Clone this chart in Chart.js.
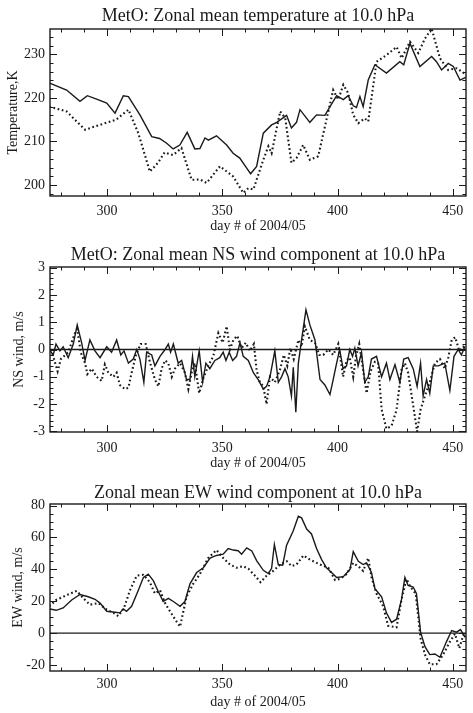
<!DOCTYPE html>
<html><head><meta charset="utf-8">
<script src="https://cdn.jsdelivr.net/npm/chart.js@4/dist/chart.umd.min.js"></script>
<style>
html,body{margin:0;padding:0;background:#fff;width:473px;height:713px;overflow:hidden}
canvas{position:absolute;left:0}
</style></head><body>
<canvas id="c1" width="473" height="236" style="top:0"></canvas>
<canvas id="c2" width="473" height="236" style="top:236px"></canvas>
<canvas id="c3" width="473" height="241" style="top:472px"></canvas>
<script>
// ---- data ----
const xTicks = [300, 350, 400, 450];

const tSolidDay = [275,282.5,288.3,291.5,295.5,299.9,303.5,307.1,309.3,314.3,319.4,322.8,325.9,328.7,331.6,334.8,338.1,340.3,342.5,344,347.5,351.9,354.7,357.6,360.6,362.3,364.9,367.8,371.4,373.6,377.9,380,382.2,383.7,388,390.9,394.5,398.1,399.6,402.5,404.6,406.8,408.2,409.7,411.1,413.3,416.2,421.2,427,428.7,431.4,435.7,440.8,442.9,445.1,448,450.2,453.1,456];
const tSolid = [223.4,221.8,219.2,220.5,219.7,218.8,216.5,220.5,220.3,216.1,211.1,210.7,209.6,208.3,209.2,212.1,208.3,208.4,210.8,210.3,211.3,209.2,207.3,206.2,203.9,202.6,204.3,211.9,213.8,214.4,216,213.1,214.4,217.3,214.4,216.1,216.0,219.2,220.5,219.6,220.5,218.2,217.8,220.3,218,224.1,227.6,225.7,228.3,227.6,232.5,227.2,229.5,228.3,226.4,227.9,227.2,224.1,224.8];
const tDotDay = [275,282.5,290.5,296.8,304,309.3,313.6,318.6,322.1,325,328.7,332.3,336.7,340.3,343.2,349,354.7,359.1,361.3,363.5,367.8,370,371.4,375.1,377.3,380,382.2,385.1,388,391.6,394.5,398.1,400.3,402.5,404.6,406.8,409,411.8,413.3,416.9,421.2,425.6,427.8,431.4,435,437.9,440.8,444.4,448,451.6,456];
const tDot = [218,216.9,212.7,213.8,215,217.3,211.9,203.1,205.1,207.5,206.9,208.5,201.2,201.3,200.5,204.3,202,198.2,199.3,199,205.8,208.9,207.3,216.9,215.4,205.1,206.2,209.2,205.8,206.6,213.4,221.8,219.6,223,221.1,216.1,214.2,215.3,214.6,228.3,229.8,231.7,229.1,232.9,230.3,233.6,235.9,229.1,226.4,226.8,225.3];
const tTicks = [200, 210, 220, 230];

const nsSolidDay = [275,276.7,277.9,279.6,281,283.2,285.4,287.1,289,290.5,292.6,294.8,297,299.9,302,304.2,306,307.4,309.3,311.4,312.9,314.3,316,317.2,319.4,320.8,323,325.2,326.6,327.6,328.8,330.9,332.4,334.5,336,337.1,338.1,340,341.5,342.9,344.6,346.8,348.9,350.4,351.6,353,354.5,356.2,357.7,359.1,361.3,363.5,365.6,367.8,369.2,370.7,372.8,374.3,375.7,377.2,378.6,380,380.8,381.9,383,384.4,386.3,388,390.2,392.4,394.5,396.7,398.1,399.6,400.9,402.4,403.9,405.3,406.5,407.5,408.9,410.4,411.8,413.3,414.7,416.9,419.1,421.2,422.7,424.9,427,428.7,430.6,432.8,434.5,436,437.1,438.6,440,441.5,443.7,446.5,448.7,450.5,452.3,453.7,455.2];
const nsSolid = [0,-0.2,0.2,-0.05,0.1,-0.3,0.2,0.9,0.25,-0.4,0.35,-0.05,-0.3,0.1,-0.1,0.35,-0.2,-0.05,-0.5,-0.35,0,-0.35,-1.2,-0.1,-0.2,-0.6,-0.25,0,0.2,-0.1,0.2,-0.5,-0.4,-1.1,-1.1,-0.25,-1.0,-0.05,-1.2,-0.5,-0.7,-0.4,-0.3,-0.1,-0.4,-0.1,-0.4,-0.25,0.25,-0.25,-0.4,-0.85,-1.1,-1.45,-1.35,-1.0,-0.05,-1.2,-1.0,-0.7,-1.0,-1.7,-0.65,-2.3,-0.5,0.35,1.45,0.9,0.35,-1.1,-1.3,-1.65,-1.1,-0.5,0,-0.7,-0.6,0,-0.25,0.05,-0.6,-0.1,-1.2,-1.0,-0.35,-0.25,-1.0,-0.5,-1.1,-0.55,-1.2,-0.35,-0.3,-0.7,-1.35,-0.5,-1.7,-1.1,-1.6,-0.6,-0.6,-0.5,-1.5,-0.25,0,-0.2,0.1];
const nsDotDay = [275,276.7,278.6,280,283.2,286.1,287.1,288.6,290.5,291.5,293.4,295.5,297.7,299.1,300.6,302.8,304.2,305.6,307.8,309.3,310.7,312.6,314.6,316.8,318.6,320.8,322.3,323.7,325.2,326.6,328.1,329.5,331.7,333.8,335.3,336.7,338.1,340,341.8,343.9,346.1,348.3,350.2,351.9,353.3,354.8,356.5,358.4,360.2,362,363.7,364.9,366.3,367.8,369.2,370.7,372.8,375,376.7,378.2,379.5,381,383,384.4,385.8,388,390.2,392.1,393.8,396,398.1,400.3,402.4,403.9,405.3,406.8,408,409.4,411.1,412.6,414.3,416.2,417.6,419.1,421.2,423.4,425.6,427.7,429.2,430.6,432.8,434.5,436,437.9,440,442.2,444.4,446.5,448,449.5,451,452.8,454.5,456];
const nsDot = [-0.05,-0.25,-0.8,-0.35,-0.1,0.6,0.75,-0.1,-0.5,-0.9,-0.7,-1.0,-1.15,-0.55,-0.85,-1.0,-0.85,-1.3,-1.45,-1.4,-0.85,-0.2,0.2,0.2,-0.45,-1.1,-1.35,-0.7,-0.4,-0.5,-1.0,-0.7,-0.5,-0.85,-1.45,-0.85,-0.5,-1.6,-1.05,-0.6,-0.25,0.6,0.25,0.85,0,0.35,0.5,0.05,0.25,-0.05,0.2,-0.75,-1.2,-1.35,-2.0,-1.0,-1.2,-0.75,-0.2,-0.6,0.05,-0.35,0.35,0.1,0.85,0.35,0.25,-0.2,-0.2,0,-0.2,0.2,-1.0,-0.4,-0.3,-1.0,-0.25,0.2,-0.75,-1.6,-0.8,-0.45,-0.5,-2.2,-2.9,-2.8,-2.2,-0.75,-0.5,-0.85,-2.05,-3.0,-2.2,-1.7,-1.2,-0.5,-0.35,-0.7,-0.3,0.35,0.45,-0.05,0.1,0];
const nsTicks = [-3, -2, -1, 0, 1, 2, 3];

const ewSolidDay = [275,278,281,284.7,288.3,291.9,294.8,297,299.9,303.5,305.6,307.1,308.5,310.7,313.6,315.8,317.9,320.1,322.3,324.4,326.6,328.8,331.7,333.8,336,338.9,341.8,344.7,347.5,350.4,352.6,354.8,356.9,358.4,360.6,362.8,364.9,367.8,370,371.4,372.6,374.3,376.2,377.9,380.8,383,384.4,386.6,388.7,390.9,393.1,395.2,397.4,399.6,402.5,405.4,406.8,409,411.1,412.6,414.7,416.2,419.1,421.2,423.4,425.6,427.7,429.2,430.6,432.8,434.2,436,437.9,440,442.2,444.4,447.2,449.5,451.6,453.3,455.2,456];
const ewSolid = [15.2,14.3,15.8,20.8,24.2,22.8,21.2,18.8,13.7,13.1,12.7,15.2,13.7,16.8,26.9,34.9,37,32.9,25.9,19.8,21.8,19.8,16.8,19.8,30.9,38,41,47.1,48.7,49.5,53.1,52.1,51.7,49.5,53.5,51.5,45.5,39.4,37.4,40.6,55.6,43,42.6,55.2,64.2,73.3,72.3,65.3,62.2,53.1,46.1,41,38,34.9,35.4,40,51.1,45,43,44,38,27.9,22.8,12.7,6.7,8.7,20.8,34.9,29.9,28.9,24.8,0.6,-8.5,-13.5,-13.1,-15.2,-5.5,1.6,0.6,2.2,-2.4,-1.8];
const ewDotDay = [275,278,282.5,286.9,289.8,292.6,296.3,299.9,302.8,304.9,307.4,310,312.9,315.8,318.6,320.8,323,325.2,327.3,329.5,331.7,334.5,337.4,340.3,343.9,347.5,350.4,353.3,356.2,359.1,361.3,364.2,366.6,369.2,372.1,375.1,378,380.1,382.2,385.2,388,392.4,396,398.9,401,403.9,406.8,409.7,411.1,413.3,414.7,416.9,419.8,421.9,425.6,427.7,429.9,431.6,433.9,436,437.9,440,442.9,445.8,448.7,450.9,452.8,454.5,456];
const ewDot = [16.8,20.8,23.8,26.5,21.8,17.8,18.8,14.7,12.7,10.7,15.8,26.9,36,36.6,31.9,24.8,26.9,18.8,13.7,8.7,4.0,22.8,30.9,37,47.1,52.1,47.1,43,41,42,40.4,36,31.9,36,39,43,45,42,43,48.7,46.1,43,41,33.3,34,37,44,41,39,47.1,35,24.8,16.8,4.6,3.6,20.8,33.9,28.9,24.8,-3.4,-13.5,-19.6,-19.6,-13.5,-5.5,-0.4,-9.5,-1.4,-0.4];
const ewTicks = [-20, 0, 20, 40, 60, 80];

// ---- drawing ----
const INK = '#1a1a1a';
const FONT = "'Liberation Serif', 'Times New Roman', serif";
const XMIN = 275.3, XMAX = 455.7;

const frame = {
  id: 'frame',
  afterDatasetsDraw(chart, args, o) {
    const {ctx, chartArea: a, scales: {x, y}} = chart;
    ctx.save();
    ctx.strokeStyle = INK;
    ctx.lineWidth = 1;
    const seg = (x1, y1, x2, y2) => { ctx.beginPath(); ctx.moveTo(x1, y1); ctx.lineTo(x2, y2); ctx.stroke(); };
    const n0x = Math.ceil(XMIN / o.xMinor), n1x = Math.floor(XMAX / o.xMinor);
    for (let i = n0x; i <= n1x; i++) {
      const v = i * o.xMinor;
      const major = Math.abs(v / o.xMajor - Math.round(v / o.xMajor)) < 1e-6;
      const L = major ? 7 : 3.5;
      const px = Math.round(x.getPixelForValue(v)) + 0.5;
      seg(px, a.bottom, px, a.bottom - L);
      seg(px, a.top, px, a.top + L);
    }
    const n0y = Math.ceil(y.min / o.yMinor - 1e-9), n1y = Math.floor(y.max / o.yMinor + 1e-9);
    for (let i = n0y; i <= n1y; i++) {
      const v = i * o.yMinor;
      const major = Math.abs(v / o.yMajor - Math.round(v / o.yMajor)) < 1e-6;
      const L = major ? 7 : 3.5;
      const py = Math.round(y.getPixelForValue(v)) + 0.5;
      seg(a.left, py, a.left + L, py);
      seg(a.right, py, a.right - L, py);
    }
    ctx.lineWidth = 1.4;
    ctx.strokeRect(a.left, a.top, a.right - a.left, a.bottom - a.top);
    ctx.restore();
  }
};

function pts(xs, ys) { return xs.map((d, i) => ({x: d, y: ys[i]})); }

function makeChart(id, p) {
  const datasets = [];
  if (p.zero) {
    datasets.push({data: [{x: XMIN, y: 0}, {x: XMAX, y: 0}], borderColor: INK, borderWidth: 1.3, pointRadius: 0});
  }
  datasets.push({data: pts(p.solidDay, p.solid), borderColor: INK, borderWidth: 1.4, pointRadius: 0, tension: 0});
  datasets.push({data: pts(p.dotDay, p.dot), borderColor: INK, borderWidth: 2.1, borderDash: [1.7, 2.6], borderCapStyle: 'butt', pointRadius: 0, tension: 0});
  return new Chart(document.getElementById(id), {
    type: 'line',
    data: {datasets},
    plugins: [frame],
    options: {
      responsive: false,
      animation: false,
      devicePixelRatio: 1,
      layout: {padding: {left: 0, right: 7, top: 0, bottom: 0}},
      plugins: {
        legend: {display: false},
        tooltip: {enabled: false},
        title: {display: true, text: p.title, color: INK, fullSize: false,
          font: {family: FONT, size: 18, weight: 'normal', lineHeight: 1.2},
          padding: {top: p.titleTop, bottom: p.titleBottom}},
        frame: {xMajor: 50, xMinor: 10, yMajor: p.yMajor, yMinor: p.yMinor}
      },
      scales: {
        x: {
          type: 'linear', min: XMIN, max: XMAX,
          afterBuildTicks: s => { s.ticks = xTicks.map(v => ({value: v})); },
          afterFit: s => { s.height = p.xBox; },
          grid: {display: false, drawTicks: false},
          border: {display: false},
          ticks: {color: INK, padding: p.xTickPad, maxRotation: 0, autoSkip: false, font: {family: FONT, size: 14}},
          title: {display: true, text: 'day # of 2004/05', color: INK, font: {family: FONT, size: 14}, padding: {top: 0, bottom: p.xTitlePad}}
        },
        y: {
          type: 'linear', min: p.yMin, max: p.yMax,
          afterBuildTicks: s => { s.ticks = p.yTicks.map(v => ({value: v})); },
          afterFit: s => { s.width = 50; },
          grid: {display: false, drawTicks: false},
          border: {display: false},
          ticks: {color: INK, padding: 5, autoSkip: false, font: {family: FONT, size: 14}},
          title: {display: true, text: p.yTitle, color: INK, font: {family: FONT, size: 14}, padding: {top: p.yTitlePad, bottom: 0}}
        }
      }
    }
  });
}

makeChart('c1', {title: 'MetO: Zonal mean temperature at 10.0 hPa', yTitle: 'Temperature,K',
  yMin: 197.5, yMax: 235.8, yTicks: tTicks, yMajor: 10, yMinor: 2,
  solidDay: tSolidDay, solid: tSolid, dotDay: tDotDay, dot: tDot, zero: false,
  titleTop: 5.2, titleBottom: 2.2, xBox: 40, xTickPad: 7, xTitlePad: 1, yTitlePad: 5});
makeChart('c2', {title: 'MetO: Zonal mean NS wind component at 10.0 hPa', yTitle: 'NS wind, m/s',
  yMin: -3.02, yMax: 3.02, yTicks: nsTicks, yMajor: 1, yMinor: 0.2,
  solidDay: nsSolidDay, solid: nsSolid, dotDay: nsDotDay, dot: nsDot, zero: true,
  titleTop: 8.2, titleBottom: 1.2, xBox: 40, xTickPad: 8, xTitlePad: 0, yTitlePad: 11});
makeChart('c3', {title: 'Zonal mean EW wind component at 10.0 hPa', yTitle: 'EW wind, m/s',
  yMin: -23.8, yMax: 81, yTicks: ewTicks, yMajor: 20, yMinor: 5,
  solidDay: ewSolidDay, solid: ewSolid, dotDay: ewDotDay, dot: ewDot, zero: true,
  titleTop: 10.2, titleBottom: 0.2, xBox: 42, xTickPad: 5, xTitlePad: 2, yTitlePad: 10});
</script>
</body></html>
